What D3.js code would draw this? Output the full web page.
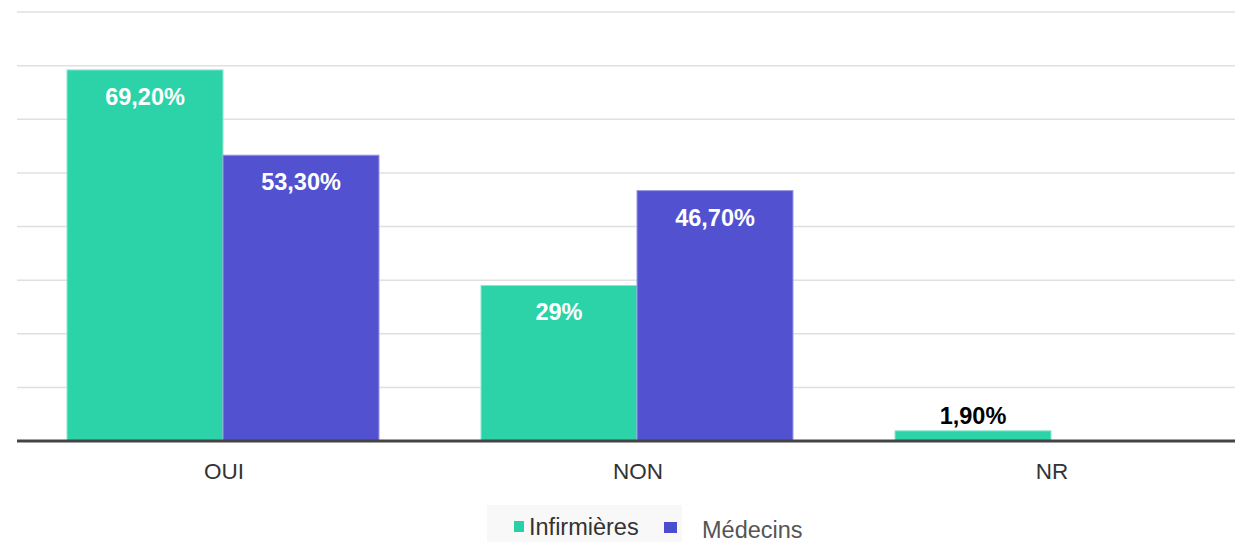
<!DOCTYPE html>
<html>
<head>
<meta charset="utf-8">
<script src="https://cdn.jsdelivr.net/npm/d3@7"></script>
<style>
  html, body { margin: 0; padding: 0; background: #fff; }
  svg { display: block; font-family: "Liberation Sans", Arial, sans-serif; }
</style>
</head>
<body>
<svg id="chart" width="1235" height="542"></svg>
<script>
// Réponses par catégorie (en %)
const categories = ["OUI", "NON", "NR"];
const seriesNames = ["Infirmières", "Médecins"];
const infirmieres = [69.2, 29, 1.9];
const medecins = [53.3, 46.7, 0];
const valueLabels = [["69,20%", "29%", "1,90%"], ["53,30%", "46,70%", ""]];
const colors = ["#26d2a5", "#4c4cd0"];
const gridTicks = [10, 20, 30, 40, 50, 60, 70, 80];

const svg = d3.select("#chart");
const plotLeft = 17, plotRight = 1235, baseY = 441, topY = 12;

const y = d3.scaleLinear().domain([0, 80]).range([baseY, topY]);
const x0 = d3.scaleBand().domain(categories).range([17, 1259]).padding(0);
const x1 = d3.scaleBand().domain(seriesNames).range([50, 362]).padding(0);

// grille horizontale
svg.append("g").selectAll("line").data(gridTicks).join("line")
  .attr("x1", plotLeft).attr("x2", plotRight)
  .attr("y1", d => y(d)).attr("y2", d => y(d))
  .attr("stroke", "#e0e0e0").attr("stroke-width", 1.5);

const seriesValues = [infirmieres, medecins];
const bars = [];
seriesNames.forEach((s, si) => {
  categories.forEach((c, ci) => {
    const v = seriesValues[si][ci];
    if (v > 0) bars.push({ s, si, c, v, label: valueLabels[si][ci] });
  });
});

svg.append("g").selectAll("rect").data(bars).join("rect")
  .attr("x", d => x0(d.c) + x1(d.s))
  .attr("width", x1.bandwidth())
  .attr("y", d => y(d.v))
  .attr("height", d => baseY - y(d.v))
  .attr("fill", d => colors[d.si])
  .attr("fill-opacity", 0.97)
  .attr("stroke", d => d.si === 0 ? "#8fe6cf" : "#9a9ae6")
  .attr("stroke-width", 1);

// étiquettes de valeur
svg.append("g").selectAll("text").data(bars).join("text")
  .attr("x", d => x0(d.c) + x1(d.s) + x1.bandwidth() / 2)
  .attr("y", d => (baseY - y(d.v)) > 40 ? y(d.v) + 35 : y(d.v) - 7)
  .attr("text-anchor", "middle")
  .attr("font-size", 23.5).attr("font-weight", "bold")
  .attr("fill", d => (baseY - y(d.v)) > 40 ? "#ffffff" : "#000000")
  .text(d => d.label);

// ligne de base
svg.append("line")
  .attr("x1", plotLeft).attr("x2", plotRight)
  .attr("y1", baseY).attr("y2", baseY)
  .attr("stroke", "#444").attr("stroke-width", 3);

// catégories
svg.append("g").selectAll("text").data(categories).join("text")
  .attr("x", d => x0(d) + x0.bandwidth() / 2)
  .attr("y", 479)
  .attr("text-anchor", "middle")
  .attr("font-size", 22.5).attr("fill", "#333")
  .text(d => d);

// légende
const lg = svg.append("g");
lg.append("rect").attr("x", 487).attr("y", 505).attr("width", 195).attr("height", 37).attr("fill", "#f8f8f8");
lg.append("rect").attr("x", 514).attr("y", 521).attr("width", 10).attr("height", 11).attr("fill", colors[0]);
lg.append("text").attr("x", 529).attr("y", 535).attr("font-size", 23.5).attr("fill", "#333").text(seriesNames[0]);
lg.append("rect").attr("x", 664).attr("y", 522).attr("width", 13).attr("height", 11).attr("fill", colors[1]);
lg.append("text").attr("x", 702).attr("y", 538).attr("font-size", 23.5).attr("fill", "#555").text(seriesNames[1]);
</script>
</body>
</html>
